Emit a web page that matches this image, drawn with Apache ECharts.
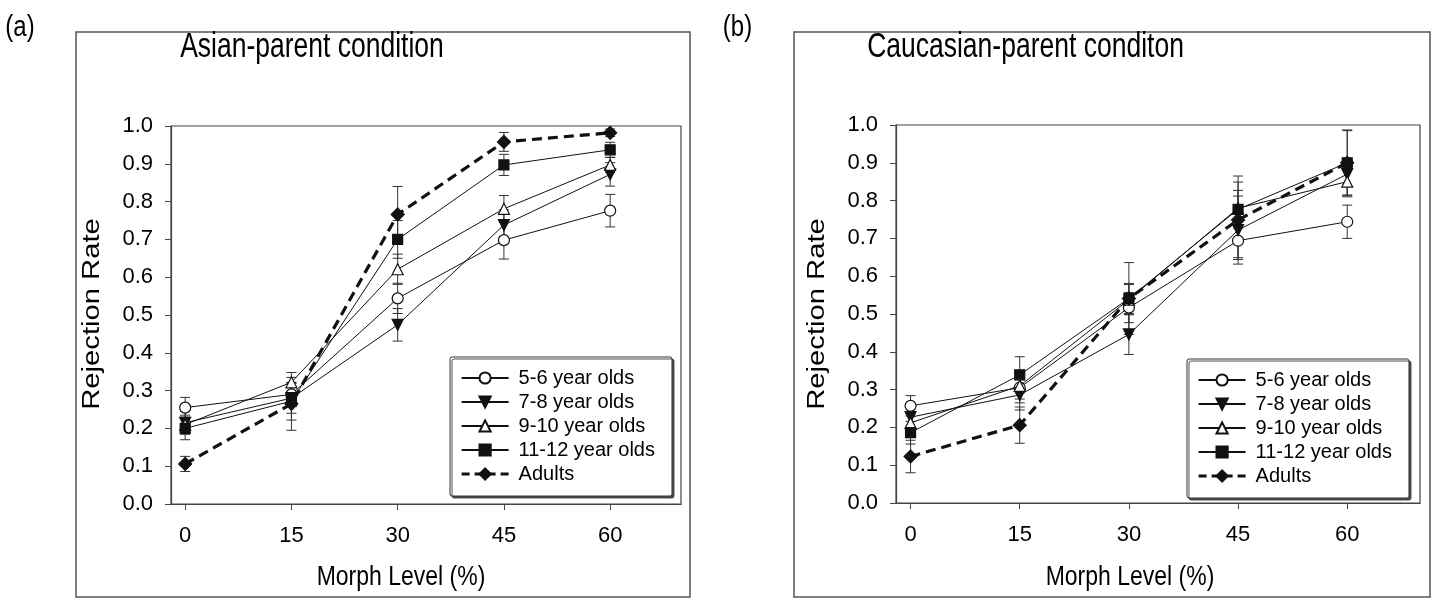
<!DOCTYPE html>
<html>
<head>
<meta charset="utf-8">
<script src="https://cdn.jsdelivr.net/npm/echarts@6/dist/echarts.min.js"></script>
<style>
html,body{margin:0;padding:0;background:#fff;}
#chart{width:1432px;height:598px;}
</style>
</head>
<body>
<div id="chart"></div>
<script>
// ---- data ----
const morphLevels = [0, 15, 30, 45, 60];
const seriesNames = ['5-6 year olds', '7-8 year olds', '9-10 year olds', '11-12 year olds', 'Adults'];
const yTicks = [0, 0.1, 0.2, 0.3, 0.4, 0.5, 0.6, 0.7, 0.8, 0.9, 1.0];

// Asian-parent condition (a)
const asian_5_6   = [0.255, 0.290, 0.544, 0.698, 0.776];
const asian_7_8   = [0.215, 0.280, 0.474, 0.738, 0.872];
const asian_9_10  = [0.210, 0.322, 0.621, 0.781, 0.897];
const asian_11_12 = [0.200, 0.272, 0.700, 0.897, 0.937];
const asian_adult = [0.106, 0.265, 0.766, 0.958, 0.982];
const asianErr_5_6   = [0.027, 0.030, 0.040, 0.050, 0.043];
const asianErr_7_8   = [0.030, 0.040, 0.043, 0.040, 0.031];
const asianErr_9_10  = [0.025, 0.026, 0.040, 0.035, 0.020];
const asianErr_11_12 = [0.030, 0.050, 0.050, 0.028, 0.020];
const asianErr_adult = [0.020, 0.070, 0.074, 0.025, 0.010];

// Caucasian-parent condition (b)
const cauc_5_6   = [0.257, 0.305, 0.517, 0.694, 0.744];
const cauc_7_8   = [0.227, 0.286, 0.446, 0.722, 0.870];
const cauc_9_10  = [0.212, 0.310, 0.538, 0.780, 0.850];
const cauc_11_12 = [0.186, 0.339, 0.541, 0.777, 0.900];
const cauc_adult = [0.123, 0.206, 0.541, 0.749, 0.900];
const caucErr_5_6   = [0.027, 0.040, 0.040, 0.050, 0.044];
const caucErr_7_8   = [0.030, 0.040, 0.053, 0.090, 0.030];
const caucErr_9_10  = [0.030, 0.035, 0.040, 0.085, 0.040];
const caucErr_11_12 = [0.030, 0.048, 0.040, 0.050, 0.085];
const caucErr_adult = [0.043, 0.048, 0.095, 0.100, 0.087];

const titleA = 'Asian-parent condition';
const titleB = 'Caucasian-parent conditon';
const panelLabelA = '(a)';
const panelLabelB = '(b)';
const xName = 'Morph Level (%)';
const yName = 'Rejection Rate';

// ---- styles ----
const FONT = 'Liberation Sans, Arial, sans-serif';
const AXIS = '#444';
const styles = [
  {symbol: 'circle', symbolSize: 11, symbolRotate: 0, fill: '#fff', width: 1, type: 'solid'},
  {symbol: 'triangle', symbolSize: 11, symbolRotate: 180, fill: '#111', width: 1, type: 'solid'},
  {symbol: 'triangle', symbolSize: 11, symbolRotate: 0, fill: '#fff', width: 1, type: 'solid'},
  {symbol: 'rect', symbolSize: 10, symbolRotate: 0, fill: '#111', width: 1, type: 'solid'},
  {symbol: 'diamond', symbolSize: 13, symbolRotate: 0, fill: '#111', width: 3.2, type: [10, 6]}
];

const panelA = [asian_5_6, asian_7_8, asian_9_10, asian_11_12, asian_adult];
const panelAErr = [asianErr_5_6, asianErr_7_8, asianErr_9_10, asianErr_11_12, asianErr_adult];
const panelB = [cauc_5_6, cauc_7_8, cauc_9_10, cauc_11_12, cauc_adult];
const panelBErr = [caucErr_5_6, caucErr_7_8, caucErr_9_10, caucErr_11_12, caucErr_adult];

function errRender(params, api) {
  const x = api.value(0), lo = api.value(1), hi = api.value(2);
  const p1 = api.coord([x, lo]), p2 = api.coord([x, hi]);
  const w = 5;
  const st = {stroke: '#333', lineWidth: 1};
  return {type: 'group', children: [
    {type: 'line', shape: {x1: p1[0], y1: p1[1], x2: p2[0], y2: p2[1]}, style: st},
    {type: 'line', shape: {x1: p1[0] - w, y1: p1[1], x2: p1[0] + w, y2: p1[1]}, style: st},
    {type: 'line', shape: {x1: p2[0] - w, y1: p2[1], x2: p2[0] + w, y2: p2[1]}, style: st}
  ]};
}

const series = [];
[[panelA, panelAErr, 0], [panelB, panelBErr, 1]].forEach(([vals, errs, gi]) => {
  vals.forEach((arr, i) => {
    series.push({
      type: 'custom', name: 'err' + gi + '_' + i, xAxisIndex: gi, yAxisIndex: gi,
      renderItem: errRender, z: 1, silent: true,
      encode: {x: 0, y: [1, 2]},
      data: morphLevels.map((m, k) => [m, arr[k] - errs[i][k], arr[k] + errs[i][k]])
    });
  });
  vals.forEach((arr, i) => {
    const s = styles[i];
    series.push({
      type: 'line', name: seriesNames[i], xAxisIndex: gi, yAxisIndex: gi,
      data: morphLevels.map((m, k) => [m, arr[k]]),
      symbol: s.symbol, symbolSize: s.symbolSize, symbolRotate: s.symbolRotate,
      showAllSymbol: true, z: 2 + i,
      lineStyle: {color: '#111', width: s.width, type: s.type},
      itemStyle: {color: s.fill, borderColor: '#111', borderWidth: 1.2},
      emphasis: {disabled: true},
      animation: false
    });
  });
});

function xAxis(gi) {
  return {
    type: 'value', gridIndex: gi, min: -2, max: 70,
    axisLine: {show: true, onZero: false, lineStyle: {color: AXIS, width: 1.2}},
    axisTick: {show: true, inside: false, length: 6, customValues: morphLevels, lineStyle: {color: AXIS}},
    axisLabel: {customValues: morphLevels, fontSize: 22, margin: 21, color: '#000', fontFamily: FONT},
    splitLine: {show: false}
  };
}
function yAxis(gi) {
  return {
    type: 'value', gridIndex: gi, min: 0, max: 1, interval: 0.1,
    axisLine: {show: true, onZero: false, lineStyle: {color: AXIS, width: 1.2}},
    axisTick: {show: true, inside: false, length: 6, customValues: yTicks, lineStyle: {color: AXIS}},
    axisLabel: {customValues: yTicks, formatter: v => v.toFixed(1), fontSize: 22, margin: 18, color: '#000', fontFamily: FONT},
    splitLine: {show: false}
  };
}

function legend(left, top) {
  return {
    orient: 'vertical', left: left, top: top,
    data: seriesNames.map((n, i) => i === 4
      ? {name: n, lineStyle: {width: 3.2, type: [8, 5]}}
      : {name: n}),
    itemWidth: 47, itemHeight: 14, itemGap: 4,
    padding: [11, 17, 12, 10],
    borderColor: '#333', borderWidth: 1, borderRadius: 2,
    backgroundColor: '#fff',
    shadowColor: 'rgba(60,60,60,0.9)', shadowOffsetX: 2, shadowOffsetY: 2, shadowBlur: 0,
    textStyle: {fontSize: 20, color: '#000', fontFamily: FONT, padding: [0, 0, 0, 5], lineHeight: 20},
    selectedMode: false
  };
}

function txt(text, x, y, size, opts) {
  return Object.assign({
    type: 'text', x: x, y: y, z: 10,
    style: {text: text, fontSize: size, fill: '#000', fontFamily: FONT, align: 'center', verticalAlign: 'middle'}
  }, opts || {});
}

const option = {
  backgroundColor: '#fff',
  animation: false,
  graphic: [
    {type: 'rect', shape: {x: 76, y: 32, width: 614, height: 565}, style: {fill: 'none', stroke: '#555', lineWidth: 1.5}, z: 0},
    {type: 'rect', shape: {x: 794, y: 32, width: 636, height: 565}, style: {fill: 'none', stroke: '#555', lineWidth: 1.5}, z: 0},
    txt(panelLabelA, 20, 28, 24, {scaleY: 1.25}),
    txt(panelLabelB, 737.5, 28, 24, {scaleY: 1.25}),
    txt(titleA, 312, 47, 26.5, {scaleY: 1.3}),
    txt(titleB, 1025.5, 47, 26.5, {scaleY: 1.3}),
    txt(xName, 401, 577, 23, {scaleY: 1.2}),
    txt(xName, 1130, 577, 23, {scaleY: 1.2}),
    txt(yName, 93, 314, 23, {rotation: Math.PI / 2, scaleX: 1.27}),
    txt(yName, 818, 314, 23, {rotation: Math.PI / 2, scaleX: 1.27})
  ],
  grid: [
    {left: 171, top: 126, width: 510, height: 378, show: true, borderColor: AXIS, borderWidth: 1.2, containLabel: false},
    {left: 896, top: 125, width: 524, height: 378, show: true, borderColor: AXIS, borderWidth: 1.2, containLabel: false}
  ],
  xAxis: [xAxis(0), xAxis(1)],
  yAxis: [yAxis(0), yAxis(1)],
  legend: [legend(450, 357), legend(1187, 359)],
  series: series
};

const chart = echarts.init(document.getElementById('chart'), null, {renderer: 'canvas'});
chart.setOption(option);
</script>
</body>
</html>
